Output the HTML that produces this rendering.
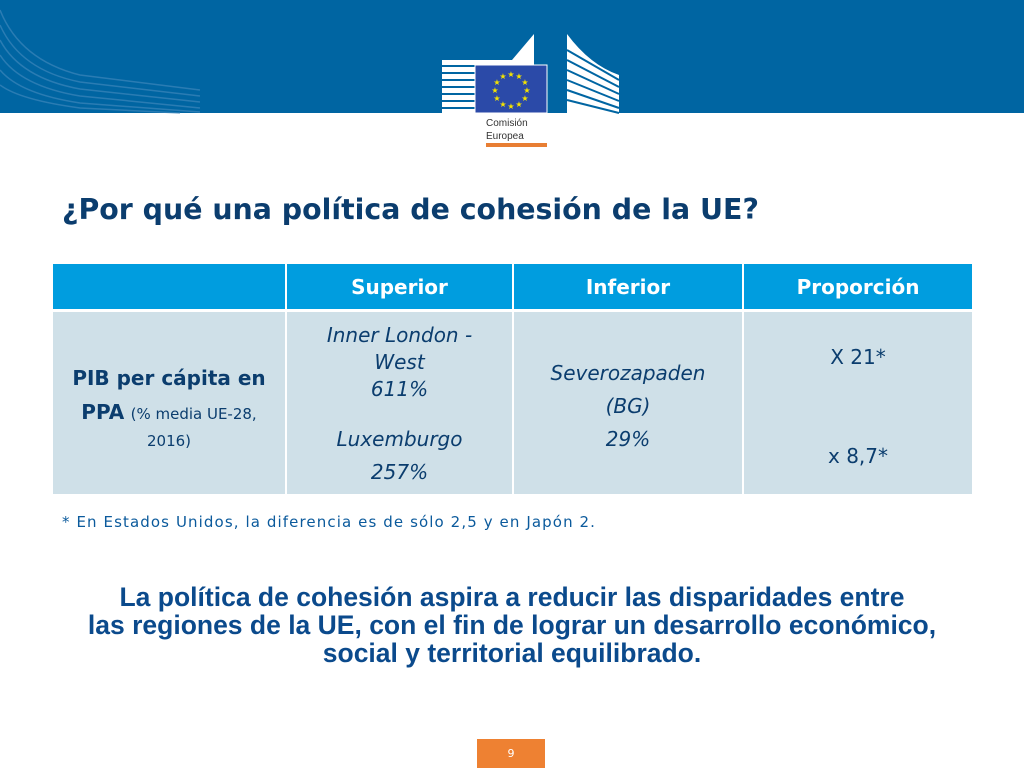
<!DOCTYPE html>
<html><head><meta charset="utf-8">
<style>
*{margin:0;padding:0;box-sizing:border-box}
body{width:1024px;height:768px;position:relative;background:#fff;overflow:hidden;font-family:"DejaVu Sans","Liberation Sans",sans-serif}
.abs{position:absolute}
.cell{position:absolute;display:flex;flex-direction:column;align-items:center;justify-content:center;text-align:center}
.hd{background:#009ddf;color:#fff;font-weight:bold;font-size:20px}
.bd{background:#cfe0e8;color:#0b3d6e;font-size:20px}
.it{font-style:italic}
</style></head><body>
<div class="abs" style="left:0;top:0;width:1024px;height:113px;background:#0065a2"></div>
<svg class="abs" style="left:0;top:0" width="1024" height="150">
<g stroke="#3d86bb" stroke-width="1.5" fill="none" opacity="0.7">
<path d="M0 10 Q20 60 80 75 L200 90"/><path d="M0 25 Q20 70 80 82 L200 96"/><path d="M0 40 Q20 78 80 89 L200 102"/><path d="M0 55 Q20 86 80 96 L200 108"/><path d="M0 70 Q20 94 80 103 L200 112"/><path d="M0 85 Q20 100 80 108 L180 113"/>
</g>
<rect x="442" y="60" width="92" height="53" fill="#fff"/>
<g stroke="#0065a2" stroke-width="2">
<line x1="442" y1="66" x2="534" y2="66"/><line x1="442" y1="73" x2="534" y2="73"/><line x1="442" y1="80" x2="534" y2="80"/><line x1="442" y1="87" x2="534" y2="87"/><line x1="442" y1="94" x2="534" y2="94"/><line x1="442" y1="101" x2="534" y2="101"/><line x1="442" y1="108" x2="534" y2="108"/>
</g>
<path d="M512 60 L534 34 L534 60Z" fill="#fff"/>
<path d="M567 34 L567 113 L619 113 L619 75 Q590 65 567 34Z" fill="#fff"/>
<g stroke="#0065a2" stroke-width="2">
<line x1="567" y1="50" x2="619" y2="80"/><line x1="567" y1="60" x2="619" y2="87"/><line x1="567" y1="70" x2="619" y2="94"/><line x1="567" y1="80" x2="619" y2="101"/><line x1="567" y1="90" x2="619" y2="108"/><line x1="567" y1="100" x2="619" y2="113"/>
</g>
<rect x="475" y="65" width="72" height="48" fill="#2b4aa8" stroke="#fff" stroke-width="1"/>
<g fill="#f5e400" font-size="8" text-anchor="middle">
<text x="511" y="77">★</text><text x="519" y="79">★</text><text x="525" y="85">★</text><text x="527" y="93">★</text><text x="525" y="101">★</text><text x="519" y="107">★</text><text x="511" y="109">★</text><text x="503" y="107">★</text><text x="497" y="101">★</text><text x="495" y="93">★</text><text x="497" y="85">★</text><text x="503" y="79">★</text>
</g>
<text x="486" y="126" font-family="Liberation Sans" font-size="10" fill="#333">Comisión</text>
<text x="486" y="139" font-family="Liberation Sans" font-size="10" fill="#333">Europea</text>
<rect x="486" y="143" width="61" height="4" fill="#e87e33"/>
</svg>
<div class="abs" style="left:62px;top:193px;font-size:28.4px;font-weight:bold;color:#0b3d6e;white-space:nowrap">¿Por qué una política de cohesión de la UE?</div>

<div class="cell hd" style="left:53px;top:264px;width:232px;height:45px"></div>
<div class="cell hd" style="left:287px;top:264px;width:225px;height:45px">Superior</div>
<div class="cell hd" style="left:514px;top:264px;width:228px;height:45px">Inferior</div>
<div class="cell hd" style="left:744px;top:264px;width:228px;height:45px">Proporción</div>

<div class="cell bd" style="left:53px;top:312px;width:232px;height:182px;justify-content:flex-start;padding-top:49px;line-height:34px"><div><b>PIB per cápita en<br>PPA</b> <span style="font-size:15px">(% media UE-28,</span></div><div style="font-size:15px;line-height:20px">2016)</div></div>
<div class="cell bd it" style="left:287px;top:312px;width:225px;height:182px;justify-content:flex-start;padding-top:10px;line-height:27px">
<div>Inner London -<br>West<br>611%</div><div style="margin-top:20px;line-height:33px">Luxemburgo<br>257%</div></div>
<div class="cell bd it" style="left:514px;top:312px;width:228px;height:182px;line-height:33px;padding-top:6px">Severozapaden<br>(BG)<br>29%</div>
<div class="cell bd" style="left:744px;top:312px;width:228px;height:182px;justify-content:flex-start">
<div style="margin-top:33px">X 21*</div><div style="margin-top:75px">x 8,7*</div></div>

<div class="abs" style="left:62px;top:513px;font-size:15px;letter-spacing:1.1px;color:#0b5a9c;white-space:nowrap">* En Estados Unidos, la diferencia es de sólo 2,5 y en Japón 2.</div>
<div class="abs" style="left:0;top:583px;width:1024px;text-align:center;font-family:'Liberation Sans',sans-serif;font-weight:bold;font-size:26.5px;line-height:28px;color:#0b4a8c;white-space:nowrap">La política de cohesión aspira a reducir las disparidades entre<br>las regiones de la UE, con el fin de lograr un desarrollo económico,<br>social y territorial equilibrado.</div>
<div class="abs" style="left:477px;top:739px;width:68px;height:29px;background:#ee8132;color:#fff;font-size:11px;text-align:center;line-height:29px">9</div>
</body></html>
